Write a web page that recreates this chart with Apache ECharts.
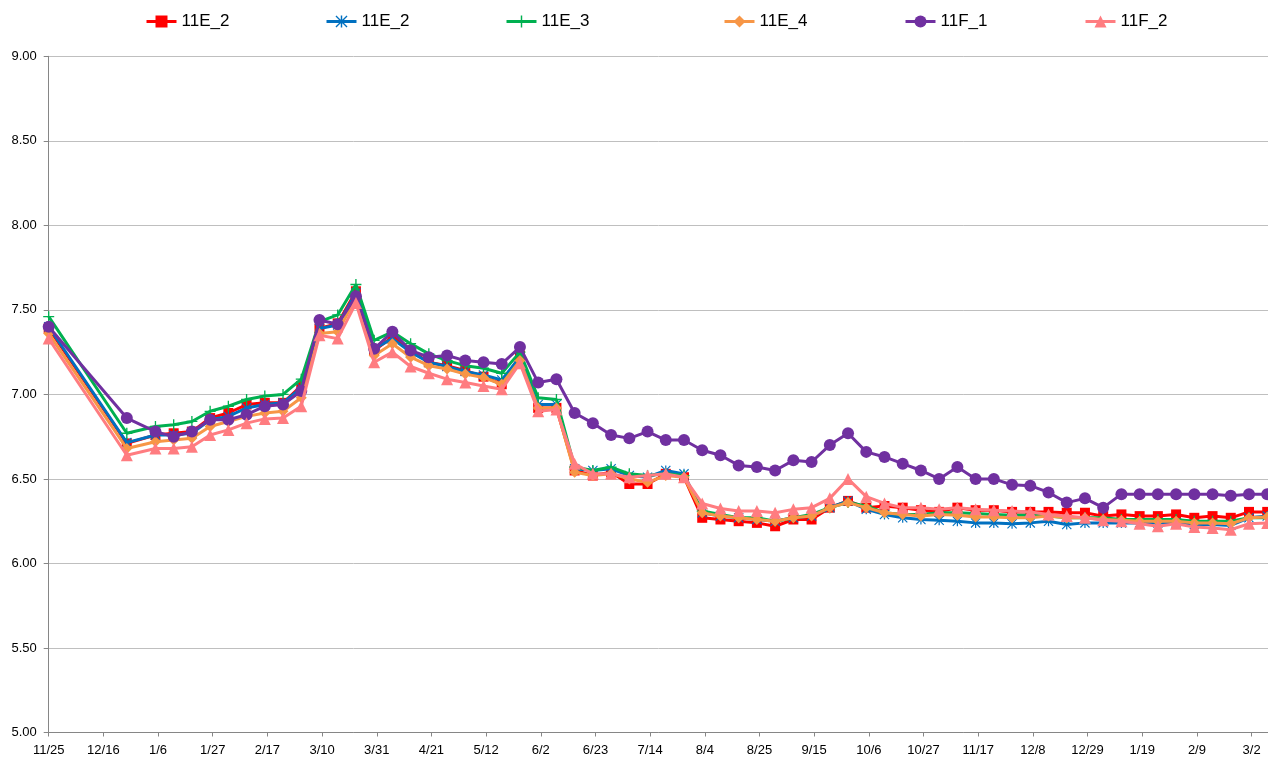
<!DOCTYPE html>
<html>
<head>
<meta charset="utf-8">
<script src="https://cdn.jsdelivr.net/npm/echarts@6/dist/echarts.min.js"></script>
<style>
html,body{margin:0;padding:0;background:#fff;}
#chart{width:1268px;height:763px;}
</style>
</head>
<body>
<div id="chart"></div>
<script>
// Sample dates
var dates = ['2013-11-25','2013-12-25','2014-01-05','2014-01-12','2014-01-19','2014-01-26','2014-02-02','2014-02-09','2014-02-16','2014-02-23',
'2014-03-02','2014-03-09','2014-03-16','2014-03-23','2014-03-30','2014-04-06','2014-04-13','2014-04-20','2014-04-27','2014-05-04',
'2014-05-11','2014-05-18','2014-05-25','2014-06-01','2014-06-08','2014-06-15','2014-06-22','2014-06-29','2014-07-06','2014-07-13',
'2014-07-20','2014-07-27','2014-08-03','2014-08-10','2014-08-17','2014-08-24','2014-08-31','2014-09-07','2014-09-14','2014-09-21',
'2014-09-28','2014-10-05','2014-10-12','2014-10-19','2014-10-26','2014-11-02','2014-11-09','2014-11-16','2014-11-23','2014-11-30',
'2014-12-07','2014-12-14','2014-12-21','2014-12-28','2015-01-04','2015-01-11','2015-01-18','2015-01-25','2015-02-01','2015-02-08',
'2015-02-15','2015-02-22','2015-03-01','2015-03-08'];

var seriesNames = ['11E_2','11E_2 ','11E_3','11E_4','11F_1','11F_2'];

var v11E_2a = [7.39,6.71,6.76,6.77,6.78,6.86,6.89,6.94,6.95,6.95,
7.05,7.39,7.42,7.61,7.26,7.34,7.26,7.19,7.17,7.14,
7.105,7.06,7.23,6.92,6.92,6.55,6.52,6.54,6.47,6.47,
6.53,6.51,6.27,6.26,6.25,6.24,6.22,6.26,6.26,6.33,
6.37,6.33,6.34,6.33,6.315,6.305,6.33,6.315,6.315,6.305,
6.305,6.305,6.30,6.30,6.28,6.29,6.28,6.28,6.29,6.27,
6.28,6.27,6.305,6.305];

var v11E_2b = [7.40,6.715,6.76,6.76,6.77,6.85,6.87,6.92,6.94,6.95,
7.04,7.39,7.41,7.60,7.27,7.33,7.25,7.19,7.165,7.135,
7.115,7.085,7.22,6.94,6.94,6.56,6.55,6.56,6.52,6.51,
6.55,6.53,6.30,6.28,6.27,6.26,6.25,6.27,6.28,6.33,
6.37,6.32,6.29,6.27,6.26,6.255,6.25,6.24,6.24,6.235,
6.24,6.25,6.23,6.24,6.24,6.24,6.24,6.24,6.24,6.23,
6.23,6.225,6.27,6.28];

var v11E_3 = [7.46,6.77,6.81,6.82,6.84,6.90,6.93,6.97,6.99,7.00,
7.09,7.43,7.47,7.65,7.32,7.37,7.30,7.24,7.20,7.17,
7.155,7.125,7.25,6.98,6.97,6.57,6.55,6.57,6.53,6.52,
6.53,6.52,6.31,6.29,6.27,6.27,6.25,6.27,6.29,6.33,
6.36,6.34,6.30,6.29,6.29,6.30,6.30,6.295,6.29,6.285,
6.285,6.28,6.27,6.27,6.27,6.26,6.26,6.26,6.26,6.25,
6.25,6.25,6.27,6.27];

var v11E_4 = [7.36,6.68,6.72,6.73,6.74,6.81,6.84,6.87,6.89,6.90,
6.98,7.36,7.37,7.57,7.23,7.30,7.22,7.17,7.15,7.12,
7.10,7.06,7.20,6.92,6.92,6.54,6.52,6.53,6.50,6.48,
6.52,6.51,6.30,6.28,6.27,6.26,6.25,6.27,6.28,6.33,
6.36,6.33,6.30,6.29,6.28,6.29,6.285,6.275,6.275,6.27,
6.27,6.28,6.27,6.27,6.26,6.255,6.25,6.25,6.25,6.24,
6.24,6.235,6.27,6.275];

var v11F_1 = [7.40,6.86,6.78,6.75,6.78,6.85,6.85,6.88,6.93,6.94,
7.02,7.44,7.415,7.58,7.27,7.37,7.26,7.22,7.23,7.20,
7.19,7.18,7.28,7.07,7.09,6.89,6.83,6.76,6.74,6.78,
6.73,6.73,6.67,6.64,6.58,6.57,6.55,6.61,6.60,6.70,
6.77,6.66,6.63,6.59,6.55,6.50,6.57,6.50,6.50,6.465,
6.46,6.42,6.36,6.385,6.33,6.41,6.41,6.41,6.41,6.41,
6.41,6.40,6.41,6.41];

var v11F_2 = [7.33,6.64,6.68,6.68,6.69,6.76,6.79,6.83,6.855,6.86,
6.93,7.35,7.33,7.54,7.19,7.25,7.165,7.125,7.09,7.07,
7.05,7.03,7.185,6.90,6.91,6.59,6.53,6.53,6.51,6.52,
6.53,6.51,6.355,6.325,6.31,6.31,6.30,6.32,6.33,6.385,
6.50,6.395,6.355,6.33,6.33,6.32,6.33,6.32,6.315,6.31,
6.305,6.29,6.28,6.27,6.255,6.25,6.235,6.22,6.235,6.215,
6.21,6.20,6.235,6.24];

var yTicks = {min: 5, max: 9, step: 0.5};
var xTickDays = 21;

var colors = ['#FF0000','#0070C0','#00B050','#F79646','#7030A0','#FF7C80'];
var asterisk = 'path://M4.4,0L5.6,0L5.6,10L4.4,10Z M0,0.8L0.8,0L10,9.2L9.2,10Z M9.2,0L10,0.8L0.8,10L0,9.2Z';
var plus = 'path://M4.4,0L5.6,0L5.6,4.4L10,4.4L10,5.6L5.6,5.6L5.6,10L4.4,10L4.4,5.6L0,5.6L0,4.4L4.4,4.4Z';
var symbols = ['rect', asterisk, plus, 'diamond', 'circle', 'triangle'];
var symbolSizes = [10, 10, 11, 11, 12, 12];
var legendLeft = [140, 320, 500, 718, 899, 1079];

var baseMs = Date.UTC(2013, 10, 25);
function dayOf(s){ var p = s.split('-'); return Math.round((Date.UTC(+p[0], +p[1]-1, +p[2]) - baseMs) / 86400000); }
var days = dates.map(dayOf);

var allValues = [v11E_2a, v11E_2b, v11E_3, v11E_4, v11F_1, v11F_2];

var series = allValues.map(function(vals, i){
  return {
    name: seriesNames[i],
    type: 'line',
    data: vals.map(function(v, k){ return [days[k], v]; }),
    symbol: symbols[i],
    symbolSize: symbolSizes[i],
    lineStyle: {width: 3, color: colors[i]},
    itemStyle: {color: colors[i]},
    z: 2 + i
  };
});

var legends = seriesNames.map(function(n, i){
  return {
    data: [n],
    left: legendLeft[i],
    top: 8,
    itemWidth: 30,
    itemHeight: 15,
    selectedMode: false,
    lineStyle: {width: 3},
    textStyle: {fontFamily: 'Liberation Sans', fontSize: 17, color: '#000'}
  };
});

var chart = echarts.init(document.getElementById('chart'), null, {renderer: 'canvas'});
chart.setOption({
  animation: false,
  backgroundColor: '#fff',
  color: colors,
  legend: legends,
  grid: {left: 48.7, right: 0, top: 56.3, bottom: 30.5, containLabel: false},
  xAxis: {
    type: 'value',
    min: 0,
    max: 468.3,
    interval: xTickDays,
    axisLine: {show: true, onZero: false, lineStyle: {color: '#868686', width: 1}},
    axisTick: {show: true, inside: false, length: 4, lineStyle: {color: '#868686'}},
    splitLine: {show: false},
    axisLabel: {
      showMaxLabel: false,
      margin: 11,
      fontFamily: 'Liberation Sans', fontSize: 13, color: '#000',
      formatter: function(v){
        if (Math.abs(v % xTickDays) > 1e-6) return '';
        var d = new Date(baseMs + v * 86400000);
        return (d.getUTCMonth() + 1) + '/' + d.getUTCDate();
      }
    }
  },
  yAxis: {
    type: 'value',
    min: yTicks.min,
    max: yTicks.max,
    interval: yTicks.step,
    axisLine: {show: true, lineStyle: {color: '#868686', width: 1}},
    axisTick: {show: true, length: 5, lineStyle: {color: '#868686'}},
    splitLine: {show: true, lineStyle: {color: '#BFBFBF', width: 1}},
    axisLabel: {
      margin: 12,
      fontFamily: 'Liberation Sans', fontSize: 13, color: '#000',
      formatter: function(v){ return v.toFixed(2); }
    }
  },
  series: series
});
</script>
</body>
</html>
